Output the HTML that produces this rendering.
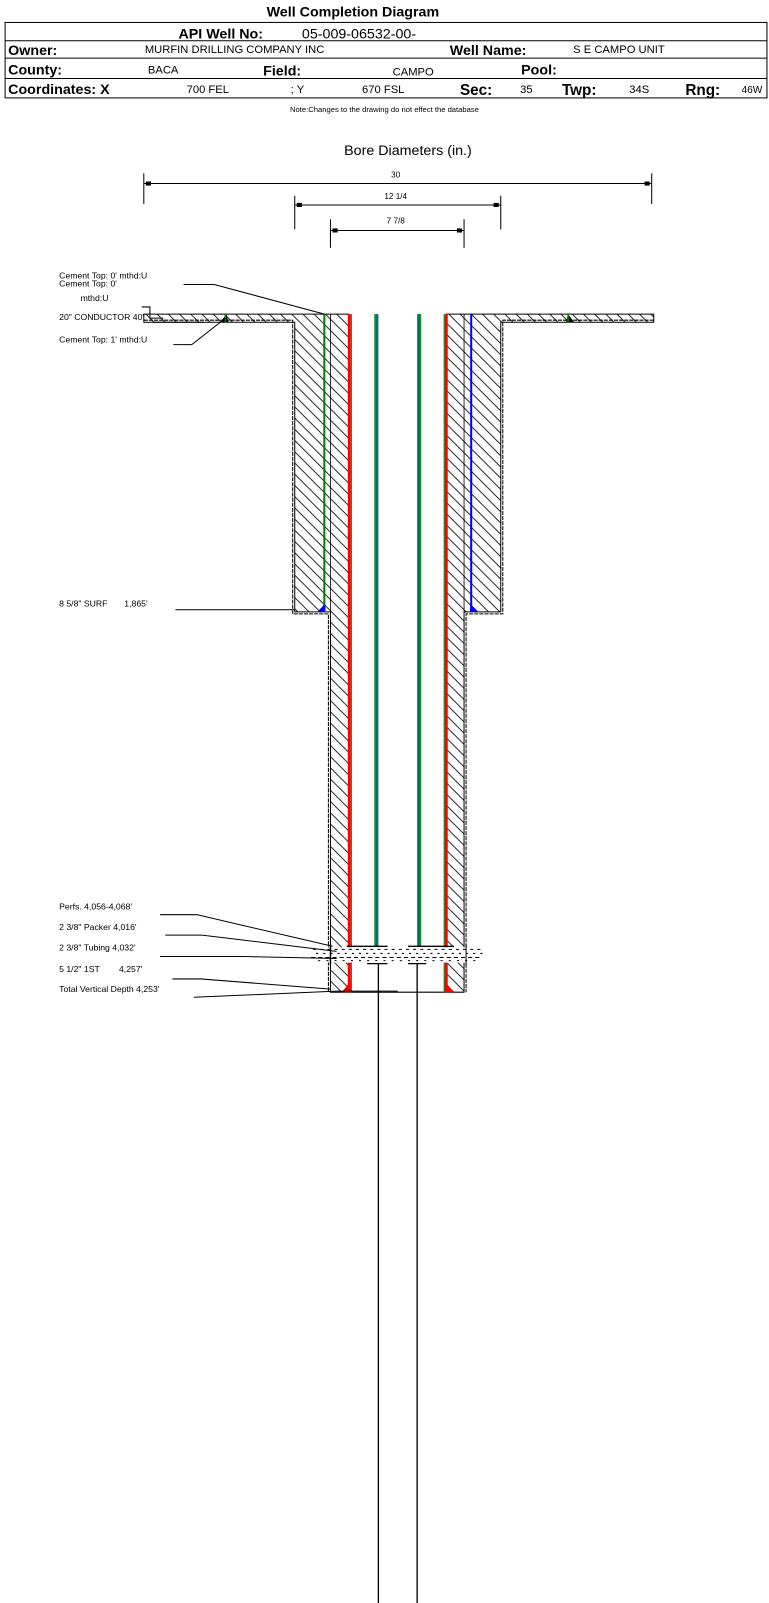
<!DOCTYPE html>
<html><head><meta charset="utf-8"><style>
html,body{margin:0;padding:0;background:#fff;}
svg{display:block;}
text{font-family:"Liberation Sans",Arial,sans-serif;fill:#000;}
</style></head><body>
<svg width="769" height="1603" viewBox="0 0 754 1572" preserveAspectRatio="none" xmlns="http://www.w3.org/2000/svg">
<defs>
<pattern id="h" patternUnits="userSpaceOnUse" width="11" height="11">
<path d="M-2,-2 L13,13 M-2,9 L2,13 M9,-2 L13,2" stroke="#000" stroke-width="0.8"/>
</pattern>
</defs>
<rect width="754" height="1572" fill="#fff"/>
<!-- Header -->
<text x="346" y="16" font-size="14" font-weight="bold" text-anchor="middle">Well Completion Diagram</text>
<rect x="5" y="22" width="747" height="74" fill="none" stroke="#000" stroke-width="1"/>
<line x1="5" y1="40" x2="752" y2="40" stroke="#000"/>
<line x1="5" y1="57" x2="752" y2="57" stroke="#000"/>
<line x1="5" y1="77" x2="752" y2="77" stroke="#000"/>
<text x="175" y="38" font-size="14" font-weight="bold">API Well No:</text>
<text x="296" y="38" font-size="14">05-009-06532-00-</text>
<text x="8" y="54" font-size="14" font-weight="bold">Owner:</text>
<text x="142" y="52" font-size="11">MURFIN DRILLING COMPANY INC</text>
<text x="441" y="54" font-size="14" font-weight="bold">Well Name:</text>
<text x="562" y="52" font-size="11">S E CAMPO UNIT</text>
<text x="8" y="73" font-size="14" font-weight="bold">County:</text>
<text x="145" y="72" font-size="11">BACA</text>
<text x="258" y="74" font-size="14" font-weight="bold">Field:</text>
<text x="385" y="74" font-size="11">CAMPO</text>
<text x="511" y="73" font-size="14" font-weight="bold">Pool:</text>
<text x="8" y="92" font-size="14" font-weight="bold">Coordinates: X</text>
<text x="183" y="91" font-size="11">700 FEL</text>
<text x="285" y="91" font-size="11">; Y</text>
<text x="355" y="91" font-size="11">670 FSL</text>
<text x="451" y="93" font-size="15" font-weight="bold">Sec:</text>
<text x="510" y="91" font-size="11">35</text>
<text x="551" y="93" font-size="15" font-weight="bold">Twp:</text>
<text x="617" y="91" font-size="11">34S</text>
<text x="672" y="93" font-size="15" font-weight="bold">Rng:</text>
<text x="727" y="91" font-size="10">46W</text>
<text x="377" y="110" font-size="7.5" text-anchor="middle">Note:Changes to the drawing do not effect the database</text>

<!-- Dimensions -->
<text x="400" y="152" font-size="14" text-anchor="middle">Bore Diameters (in.)</text>
<g stroke="#000" stroke-width="1">
<line x1="141" y1="170" x2="141" y2="200"/><line x1="639" y1="170" x2="639" y2="200"/>
<line x1="141" y1="180" x2="639" y2="180"/>
<line x1="289" y1="192" x2="289" y2="225"/><line x1="491" y1="192" x2="491" y2="225"/>
<line x1="289" y1="201" x2="491" y2="201"/>
<line x1="324" y1="215" x2="324" y2="243"/><line x1="455" y1="215" x2="455" y2="243"/>
<line x1="324" y1="226" x2="455" y2="226"/>
</g>
<g fill="#000">
<rect x="143" y="178" width="5" height="4"/><rect x="632" y="178" width="5" height="4"/>
<rect x="291" y="199" width="5" height="4"/><rect x="484" y="199" width="5" height="4"/>
<rect x="326" y="224" width="5" height="4"/><rect x="448" y="224" width="5" height="4"/>
</g>
<text x="388" y="174" font-size="8" text-anchor="middle">30</text>
<text x="388" y="195" font-size="8" text-anchor="middle">12 1/4</text>
<text x="388" y="219" font-size="8" text-anchor="middle">7 7/8</text>

<!-- Hatched regions -->
<g fill="url(#h)">
<rect x="141" y="308" width="201" height="8"/>
<rect x="437" y="308" width="204" height="8"/>
<rect x="289" y="316" width="53" height="284"/>
<rect x="437" y="316" width="54" height="284"/>
<rect x="324" y="600" width="18" height="373"/>
<rect x="437" y="600" width="18" height="373"/>
</g>
<!-- Outlines -->
<g stroke="#000" fill="none" stroke-width="1">
<path d="M342,308 H141 V316 H289 V600 H324 V973 H455 V600 H491 V316 H641 V308 H437"/>
<path d="M141,314 H287 V602 H322 V973" stroke-dasharray="4,1"/>
<path d="M641,314 H493 V602 H457 V973" stroke-dasharray="4,1"/>
<line x1="324" y1="308" x2="324" y2="600" stroke-width="0.8"/>
<line x1="455" y1="308" x2="455" y2="600" stroke-width="0.8"/>
</g>
<!-- casings -->
<line x1="318" y1="308" x2="318" y2="600" stroke="#008000" stroke-width="2"/>
<line x1="462" y1="308" x2="462" y2="600" stroke="#0000ff" stroke-width="2"/>
<polygon points="311,600 319,600 319,592" fill="#0000ff"/>
<polygon points="461,600 469,600 461,592" fill="#0000ff"/>
<rect x="341" y="308" width="3" height="665" fill="#ff0000"/>
<line x1="344.5" y1="308" x2="344.5" y2="973" stroke="#008000" stroke-width="1"/>
<rect x="436" y="308" width="3" height="665" fill="#ff0000"/>
<line x1="435.5" y1="308" x2="435.5" y2="973" stroke="#008000" stroke-width="1"/>
<polygon points="335,973 344,973 344,962" fill="#ff0000"/>
<polygon points="436,973 445,973 436,962" fill="#ff0000"/>
<polygon points="216,316 224,316 222,308" fill="#000"/>
<polygon points="555,316 563,316 557,308" fill="#000"/>
<line x1="221" y1="308" x2="221" y2="316" stroke="#008000" stroke-width="1.5"/>
<line x1="557" y1="308" x2="557" y2="316" stroke="#008000" stroke-width="1.5"/>
<!-- tubing -->
<rect x="368" y="308" width="3" height="620" fill="#007070"/>
<line x1="367.5" y1="308" x2="367.5" y2="928" stroke="#008000"/>
<rect x="409" y="308" width="3" height="620" fill="#007070"/>
<line x1="412.5" y1="308" x2="412.5" y2="928" stroke="#008000"/>
<g stroke="#000" stroke-width="1.3">
<line x1="371" y1="945" x2="371" y2="1572"/>
<line x1="409" y1="945" x2="409" y2="1572"/>
<line x1="360" y1="945" x2="380" y2="945"/>
<line x1="400" y1="945" x2="418" y2="945"/>
<line x1="340" y1="928" x2="380" y2="928"/>
<line x1="400" y1="928" x2="445" y2="928"/>
</g>
<!-- perfs band -->
<rect x="305" y="929" width="170" height="15" fill="#fff"/>
<g stroke="#000" stroke-width="1" stroke-dasharray="3,4">
<line x1="307" y1="931" x2="473" y2="931"/>
<line x1="310" y1="935" x2="473" y2="935" stroke-dasharray="2,5"/>
<line x1="305" y1="939" x2="470" y2="939" stroke-dasharray="4,3"/>
<line x1="312" y1="942" x2="468" y2="942" stroke-dasharray="2,6"/>
</g>
<line x1="324" y1="926" x2="324" y2="946" stroke="#000" stroke-width="1.5"/>
<line x1="457" y1="926" x2="457" y2="946" stroke="#000"/>

<!-- Labels -->
<g font-size="8.5">
<text x="58" y="273">Cement Top: 0' mthd:U</text>
<text x="58" y="281">Cement Top: 0'</text>
<text x="79" y="295">mthd:U</text>
<text x="58" y="314">20" CONDUCTOR 40'</text>
<text x="58" y="336">Cement Top: 1' mthd:U</text>
<text x="58" y="595">8 5/8" SURF&#160;&#160;&#160;&#160;&#160;&#160;&#160;1,865'</text>
<text x="58" y="892">Perfs. 4,056-4,068'</text>
<text x="58" y="912">2 3/8" Packer 4,016'</text>
<text x="58" y="932">2 3/8" Tubing 4,032'</text>
<text x="58" y="953">5 1/2" 1ST&#160;&#160;&#160;&#160;&#160;&#160;&#160;&#160;4,257'</text>
<text x="58" y="973">Total Vertical Depth 4,253'</text>
</g>
<g stroke="#000" stroke-width="1" fill="none">
<path d="M180,279 H210 L318,308"/>
<path d="M139,301 H147 V312 H160 M150,316 H200"/>
<path d="M170,338 H188 L216,316"/>
<path d="M172,598 H289"/>
<path d="M157,897 H193 L326,928"/>
<path d="M162,917 H198 L330,933"/>
<path d="M157,938 H240 L330,940"/>
<path d="M169,960 H197 L324,970"/>
<path d="M190,978 L330,972 L390,972"/>
</g>
</svg>
</body></html>
